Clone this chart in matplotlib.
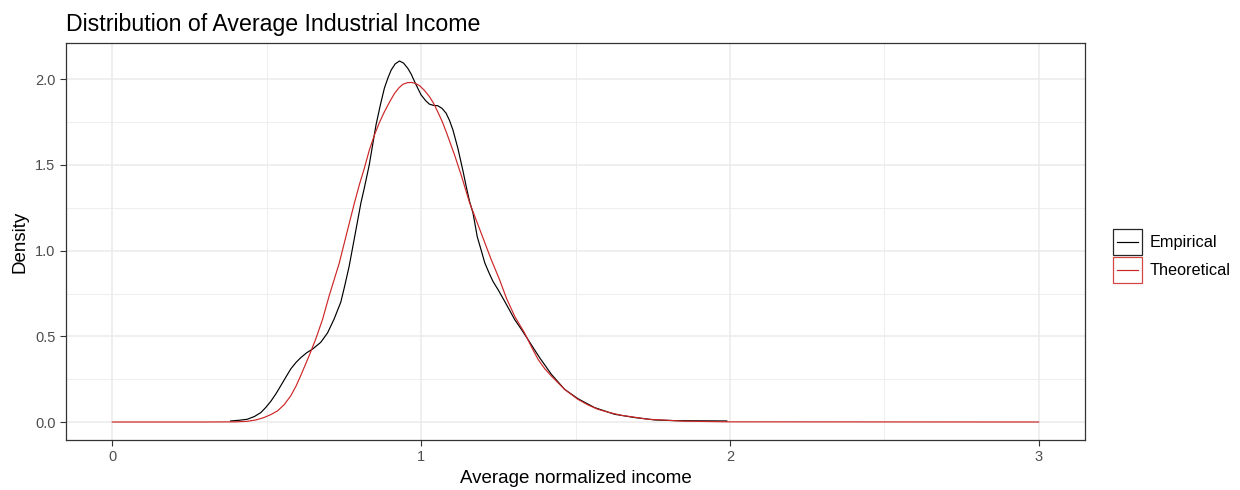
import matplotlib
matplotlib.use("Agg")
import matplotlib.pyplot as plt
from matplotlib.patches import Rectangle
from matplotlib.lines import Line2D
from matplotlib.legend_handler import HandlerBase
from matplotlib.ticker import MultipleLocator

plt.rcParams['font.family'] = ['Liberation Sans', 'DejaVu Sans']

# kernel density of the sample (empirical)
emp_x = [0.383, 0.410, 0.437, 0.460, 0.481, 0.497, 0.513, 0.530, 0.545, 0.562,
         0.578, 0.595, 0.610, 0.630, 0.648, 0.675, 0.697, 0.718, 0.740, 0.752,
         0.767, 0.789, 0.805, 0.816, 0.832, 0.854, 0.868, 0.881, 0.893, 0.903,
         0.916, 0.930, 0.943, 0.957, 0.968, 0.979, 0.990, 1.000, 1.015, 1.027,
         1.040, 1.054, 1.068, 1.081, 1.092, 1.103, 1.119, 1.136, 1.146, 1.157,
         1.168, 1.182, 1.195, 1.206, 1.220, 1.233, 1.250, 1.272, 1.303, 1.325,
         1.346, 1.365, 1.384, 1.422, 1.465, 1.508, 1.562, 1.627, 1.692, 1.757,
         1.822, 1.900, 1.990]
emp_y = [0.006, 0.010, 0.016, 0.032, 0.055, 0.085, 0.120, 0.165, 0.210, 0.262,
         0.310, 0.348, 0.375, 0.405, 0.425, 0.465, 0.520, 0.600, 0.700, 0.790,
         0.909, 1.122, 1.278, 1.365, 1.500, 1.734, 1.850, 1.948, 2.010, 2.054,
         2.090, 2.107, 2.095, 2.064, 2.030, 1.986, 1.945, 1.909, 1.875, 1.855,
         1.848, 1.846, 1.830, 1.802, 1.760, 1.705, 1.598, 1.462, 1.375, 1.287,
         1.220, 1.080, 1.000, 0.930, 0.870, 0.820, 0.770, 0.700, 0.598, 0.540,
         0.482, 0.428, 0.375, 0.278, 0.190, 0.136, 0.084, 0.045, 0.026, 0.012,
         0.008, 0.007, 0.006]

# fitted (theoretical) density
theo_x = [0.000, 0.300, 0.400, 0.437, 0.465, 0.491, 0.513, 0.535, 0.556, 0.578,
          0.595, 0.610, 0.637, 0.659, 0.681, 0.702, 0.735, 0.762, 0.784, 0.800,
          0.816, 0.832, 0.849, 0.865, 0.881, 0.898, 0.914, 0.928, 0.941, 0.955,
          0.968, 0.982, 0.995, 1.011, 1.027, 1.041, 1.054, 1.068, 1.081, 1.108,
          1.130, 1.157, 1.195, 1.227, 1.254, 1.276, 1.303, 1.335, 1.357, 1.379,
          1.400, 1.422, 1.465, 1.508, 1.540, 1.573, 1.610, 1.649, 1.736, 1.850,
          2.000, 3.000]
theo_y = [0.000, 0.000, 0.001, 0.004, 0.012, 0.026, 0.043, 0.065, 0.100, 0.153,
          0.210, 0.270, 0.385, 0.485, 0.600, 0.735, 0.928, 1.122, 1.278, 1.385,
          1.480, 1.585, 1.676, 1.748, 1.810, 1.868, 1.918, 1.950, 1.971, 1.980,
          1.982, 1.976, 1.963, 1.935, 1.899, 1.858, 1.810, 1.755, 1.695, 1.560,
          1.440, 1.280, 1.100, 0.948, 0.831, 0.724, 0.617, 0.520, 0.440, 0.365,
          0.312, 0.268, 0.190, 0.132, 0.100, 0.074, 0.055, 0.039, 0.016, 0.005,
          0.001, 0.000]

emp_col = "black"
theo_col = "#CD2626"


class BoxLineHandler(HandlerBase):
    # ggplot-style key: outlined box with a short line inside
    def create_artists(self, legend, orig_handle, xdescent, ydescent,
                       width, height, fontsize, trans):
        col = orig_handle.get_color()
        x0, y0 = -xdescent, -ydescent
        box = Rectangle((x0, y0), width, height, facecolor="white",
                        edgecolor=col, lw=0.9, alpha=0.85, transform=trans)
        pad = 0.14 * width
        ln = Line2D([x0 + pad, x0 + width - pad], [y0 + height / 2] * 2,
                    color=col, lw=0.85, transform=trans)
        return [box, ln]


fig = plt.figure(figsize=(12.4, 4.9), dpi=100)
ax = fig.add_axes([66/1240, 1 - 440/490, (1085 - 66)/1240, (440 - 43)/490])

l_emp, = ax.plot(emp_x, emp_y, color=emp_col, lw=0.85, zorder=3)
l_theo, = ax.plot(theo_x, theo_y, color=theo_col, lw=0.85, zorder=3)

ax.set_xlim(-0.15, 3.15)
ax.set_ylim(-0.105, 2.212)
ax.xaxis.set_major_locator(MultipleLocator(1))
ax.xaxis.set_minor_locator(MultipleLocator(0.5))
ax.yaxis.set_major_locator(MultipleLocator(0.5))
ax.yaxis.set_minor_locator(MultipleLocator(0.25))
ax.xaxis.set_major_formatter(lambda v, p: f"{v:.0f}")
ax.yaxis.set_major_formatter(lambda v, p: f"{v:.1f}")

ax.grid(which="major", color="#EBEBEB", lw=1.1, zorder=0)
ax.grid(which="minor", color="#EBEBEB", lw=0.6, zorder=0)
ax.set_axisbelow(True)
ax.tick_params(which="minor", length=0)
ax.tick_params(which="major", length=4, width=0.8, color="#333333",
               labelcolor="#4D4D4D", labelsize=10.5)
for s in ax.spines.values():
    s.set_color("#333333")
    s.set_linewidth(0.9)

ax.set_xlabel("Average normalized income", fontsize=13.5, labelpad=4)
ax.set_ylabel("Density", fontsize=13.5, labelpad=5)
ax.set_title("Distribution of Average Industrial Income", fontsize=16.7,
             loc="left", pad=9)

fig.legend([l_emp, l_theo], ["Empirical", "Theoretical"],
           handler_map={Line2D: BoxLineHandler()},
           loc="center left", bbox_to_anchor=(1105/1240, 1 - 256/490),
           frameon=False, fontsize=11.7, handlelength=1.8, handleheight=2.1,
           labelspacing=0.1, handletextpad=0.45, borderpad=0)

fig.savefig("out.png", dpi=100)
